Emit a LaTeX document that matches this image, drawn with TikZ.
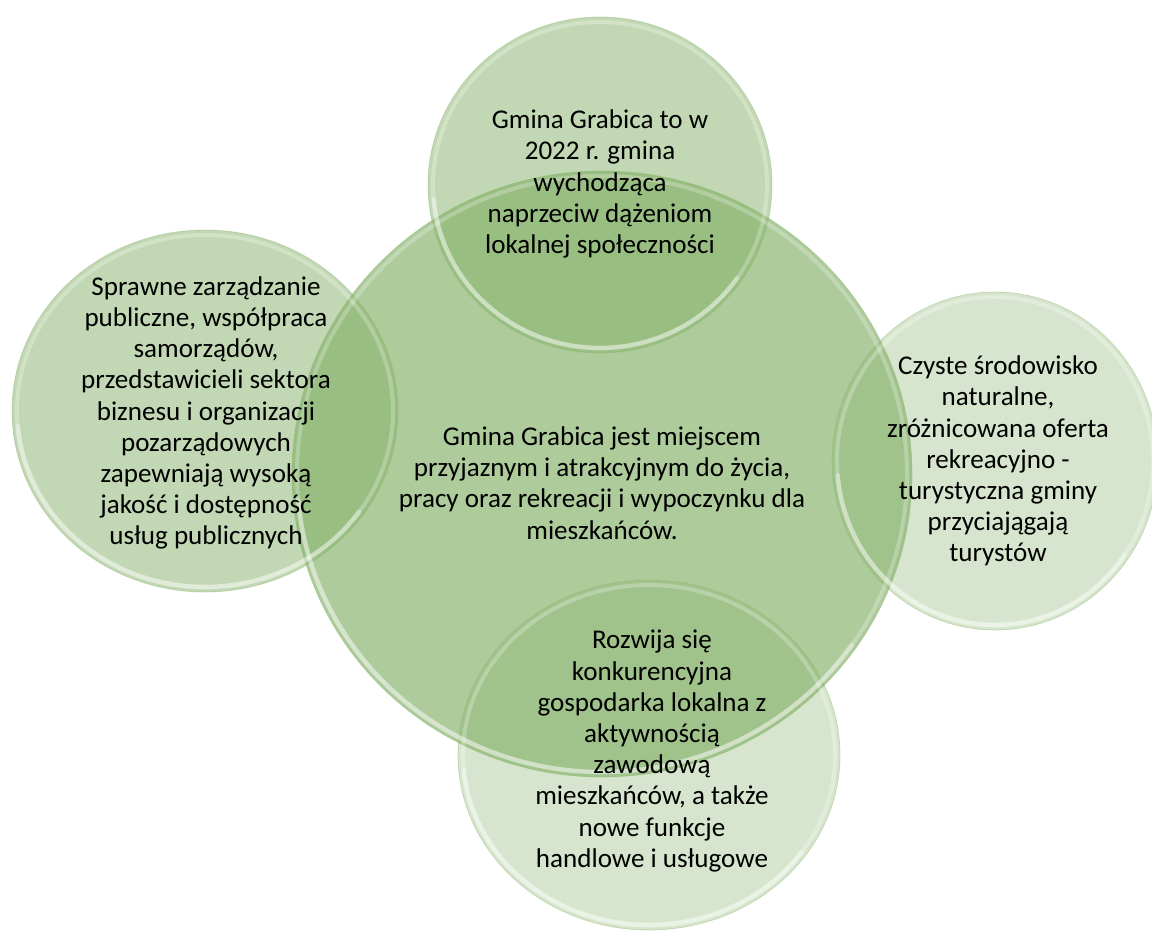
\documentclass[tikz,border=0pt]{standalone}
\usepackage{fontspec}
\setmainfont{Carlito}
\usetikzlibrary{shapes.geometric,calc}
\definecolor{basegreen}{RGB}{133,177,105}
\definecolor{edgegreen}{RGB}{140,180,110}
\tikzset{
  bub/.style={ellipse, fill=basegreen, fill opacity=#1, draw=edgegreen, draw opacity=0.4, line width=0.6pt, inner sep=0pt},
  rim/.style={draw=white, draw opacity=0.25, line width=3pt},
  rimb/.style={draw=white, draw opacity=0.35, line width=3.5pt, line cap=round},
  lab/.style={align=center, font=\fontsize{20.3}{23.4}\selectfont, text=black, inner sep=0pt},
}
\begin{document}
\begin{tikzpicture}[x=0.75pt,y=-0.75pt]
\useasboundingbox (0,0) rectangle (1152,933);
% bubbles
\node[bub=0.667, minimum width=465pt, minimum height=454.5pt] (big) at (602,474) {};
\node[bub=0.5, minimum width=258pt, minimum height=252pt] (top) at (600,185) {};
\node[bub=0.5, minimum width=289.5pt, minimum height=271.5pt] (left) at (205,411) {};
\node[bub=0.33, minimum width=244.5pt, minimum height=253.5pt] (right) at (995,461) {};
\node[bub=0.33, minimum width=286.5pt, minimum height=262.5pt] (bottom) at (649,755) {};
% glass rims
\draw[rim] (big.center) ellipse [x radius=305, y radius=298];
\draw[rimb] ($(big.center)+(35:305 and 298)$) arc[start angle=35, end angle=175, x radius=305, y radius=298];
\draw[rim] (top.center) ellipse [x radius=167, y radius=163];
\draw[rimb] ($(top.center)+(35:167 and 163)$) arc[start angle=35, end angle=175, x radius=167, y radius=163];
\draw[rim] (left.center) ellipse [x radius=188, y radius=176];
\draw[rimb] ($(left.center)+(35:188 and 176)$) arc[start angle=35, end angle=175, x radius=188, y radius=176];
\draw[rim] (right.center) ellipse [x radius=158, y radius=164];
\draw[rimb] ($(right.center)+(35:158 and 164)$) arc[start angle=35, end angle=175, x radius=158, y radius=164];
\draw[rim] (bottom.center) ellipse [x radius=186, y radius=170];
\draw[rimb] ($(bottom.center)+(35:186 and 170)$) arc[start angle=35, end angle=175, x radius=186, y radius=170];
% texts
\node[lab] (tbig) at (602,483) {Gmina Grabica jest miejscem\\przyjaznym i atrakcyjnym do życia,\\pracy oraz rekreacji i wypoczynku dla\\mieszkańców.};
\node[lab] (ttop) at (600,184) {Gmina Grabica to w\\2022 r. gmina\\wychodząca\\naprzeciw dążeniom\\lokalnej społeczności};
\node[lab] (tleft) at (206,413) {Sprawne zarządzanie\\publiczne, współpraca\\samorządów,\\przedstawicieli sektora\\biznesu i organizacji\\pozarządowych\\zapewniają wysoką\\jakość i dostępność\\usług publicznych};
\node[lab] (tright) at (998,461) {Czyste środowisko\\naturalne,\\zróżnicowana oferta\\rekreacyjno -\\turystyczna gminy\\przyciajągają\\turystów};
\node[lab] (tbottom) at (652,751) {Rozwija się\\konkurencyjna\\gospodarka lokalna z\\aktywnością\\zawodową\\mieszkańców, a także\\nowe funkcje\\handlowe i usługowe};
\end{tikzpicture}
\end{document}
